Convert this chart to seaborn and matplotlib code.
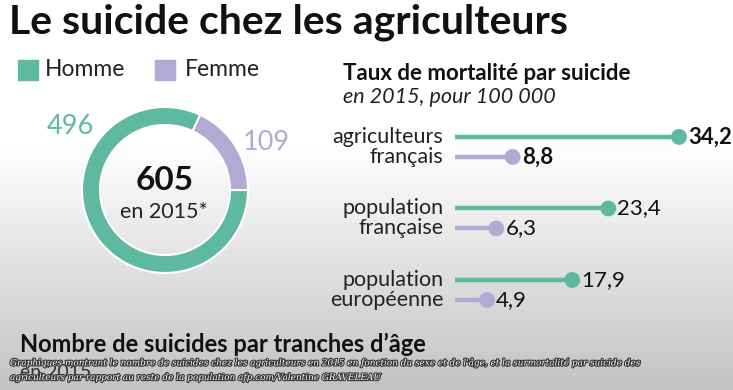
import numpy as np
import pandas as pd
import matplotlib.pyplot as plt
import matplotlib.patheffects as pe
import seaborn as sns

# données
sexes = ['Homme', 'Femme']
nb_suicides = [496, 109]
total = 605
groupes = ['agriculteurs\nfrançais', 'population\nfrançaise', 'population\neuropéenne']
taux_homme = [34.2, 23.4, 17.9]
taux_femme = [8.8, 6.3, 4.9]

vert = '#5fb9a0'
violet = '#b2a9d5'
W, H = 733, 390

sns.set_theme(style='white')
plt.rcParams['font.family'] = ['Lato', 'DejaVu Sans']

fig = plt.figure(figsize=(W / 100, H / 100), dpi=100)

def px(x, y):
    return x / W, 1 - y / H

# fond dégradé
bg = fig.add_axes([0, 0, 1, 1], zorder=-5)
grad = np.concatenate([np.ones(140), np.linspace(1, 0.76, 250)])
bg.imshow(np.tile(grad[:, None], (1, 10)), cmap='gray', vmin=0, vmax=1,
          aspect='auto', extent=[0, 1, 0, 1])
bg.axis('off')

# titre et légende
fig.text(*px(9, 22), 'Le suicide chez les agriculteurs', fontsize=29.5,
         fontweight='bold', color='#111111', va='center')
fig.patches.append(plt.Rectangle(px(18, 80), 20 / W, 20 / H, color=vert,
                                 transform=fig.transFigure))
fig.text(*px(45, 70), 'Homme', fontsize=16.5, va='center', color='#222222')
fig.patches.append(plt.Rectangle(px(155, 80), 20 / W, 20 / H, color=violet,
                                 transform=fig.transFigure))
fig.text(*px(185, 70), 'Femme', fontsize=16.5, va='center', color='#222222')

# anneau
ax_d = fig.add_axes([(165 - 100) / W, (H - 290) / H, 200 / W, 200 / H])
ax_d.pie(nb_suicides, colors=[vert, violet], startangle=0, counterclock=False,
         radius=0.83, wedgeprops=dict(width=0.18, edgecolor='white', linewidth=1.5))
ax_d.set_xlim(-1, 1)
ax_d.set_ylim(-1, 1)
ax_d.axis('off')
fig.text(*px(70, 127), str(nb_suicides[0]), fontsize=19.5, color=vert, ha='center', va='center')
fig.text(*px(266, 143), str(nb_suicides[1]), fontsize=19.5, color=violet, ha='center', va='center')
fig.text(*px(165, 180), str(total), fontsize=24, fontweight='bold', color='#111111',
         ha='center', va='center')
fig.text(*px(164, 212), 'en 2015*', fontsize=15.5, color='#222222', ha='center', va='center')

# taux de mortalité
fig.text(*px(343, 73), 'Taux de mortalité par suicide', fontsize=16, fontweight='bold',
         color='#111111', va='center')
fig.text(*px(343, 97), 'en 2015, pour 100 000', fontsize=15.5, style='italic',
         color='#222222', va='center')

scale = 6.55
ax = fig.add_axes([455 / W, (H - 320) / H, (W - 455) / W, 210 / H])
ax.set_xlim(0, (W - 455) / scale)
ax.set_ylim(2.42, -0.517)
ax.axis('off')

idx = np.arange(len(groupes))
df = pd.DataFrame({
    'groupe': groupes * 2,
    'sexe': ['Homme'] * 3 + ['Femme'] * 3,
    'taux': taux_homme + taux_femme,
    'y': list(idx - 0.14) + list(idx + 0.14),
})
for _, r in df.iterrows():
    c = vert if r['sexe'] == 'Homme' else violet
    ax.hlines(r['y'], 0, r['taux'], color=c, lw=3.2)
sns.scatterplot(data=df, x='taux', y='y', hue='sexe', palette={'Homme': vert, 'Femme': violet},
                s=130, edgecolor='none', legend=False, ax=ax, zorder=3)
for i, r in df.iterrows():
    gras = r['groupe'] == groupes[0]
    ax.text(r['taux'] + 1.4, r['y'], f"{r['taux']:.1f}".replace('.', ','), fontsize=16,
            fontweight='bold' if gras else 'normal', color='#111111', va='center')
for i, g in enumerate(groupes):
    a, b = g.split('\n')
    ax.text(-1.8, i - 0.14, a, fontsize=15.5, ha='right', va='center', color='#222222', clip_on=False)
    ax.text(-1.8, i + 0.14, b, fontsize=15.5, ha='right', va='center', color='#222222', clip_on=False)

# bas
fig.text(*px(20, 344), 'Nombre de suicides par tranches d’âge', fontsize=17,
         fontweight='bold', color='#111111', va='center')
fig.text(*px(20, 372), 'en 2015', fontsize=14, color='#333333', va='center')
cap = ("Graphiques montrant le nombre de suicides chez les agriculteurs en 2015 en fonction du sexe et de l'âge, et la surmortalité par suicide des\n"
       "agriculteurs par rapport au reste de la population afp.com/Valentine GRAVELEAU")
fig.text(*px(10, 370), cap, fontsize=6.4, family='DejaVu Serif', style='italic', color='white',
         va='center', linespacing=1.8,
         path_effects=[pe.withStroke(linewidth=1.6, foreground='#333333')])

fig.savefig('out.png', dpi=100)
